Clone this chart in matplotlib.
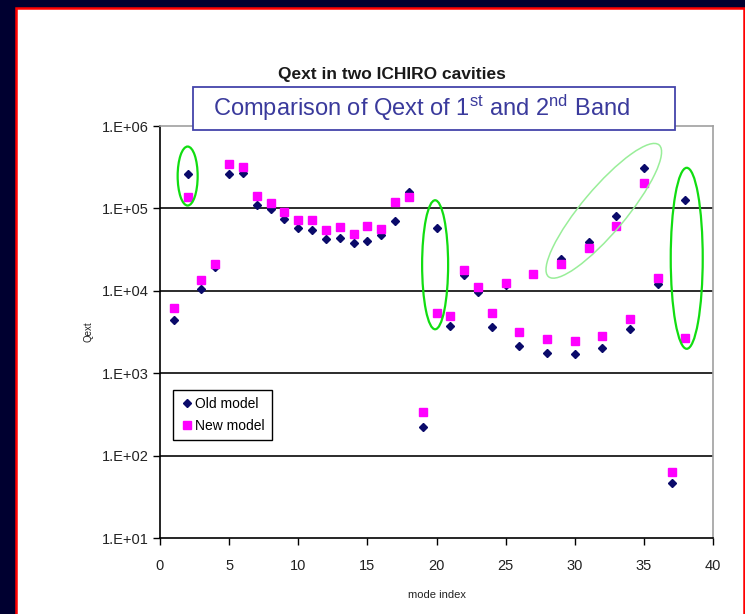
import numpy as np
import matplotlib
matplotlib.use("Agg")
import matplotlib.pyplot as plt
from matplotlib.patches import Ellipse, Rectangle
from matplotlib.transforms import IdentityTransform
from matplotlib.ticker import FixedLocator, FuncFormatter

plt.rcParams['font.family'] = ['Liberation Sans', 'DejaVu Sans']
plt.rcParams['mathtext.fontset'] = 'custom'
plt.rcParams['mathtext.rm'] = 'Liberation Sans'
plt.rcParams['mathtext.it'] = 'Liberation Sans:italic'
plt.rcParams['mathtext.bf'] = 'Liberation Sans:bold'

mode = list(range(1, 39))
old_model = [4425, 261000, 10500, 19600, 261000, 271000, 109000, 97500, 73700, 58300,
             54700, 42200, 43800, 38400, 40500, 47600, 71000, 160000, 224, 58300,
             3750, 15600, 9770, 3600, 11700, 2140, 16000, 1770, 24100, 1700,
             39400, 2040, 80900, 3470, 312000, 12100, 46, 126000]
new_model = [6240, 139000, 13500, 20900, 346000, 320000, 141000, 117000, 91000, 72300,
             72300, 54700, 60000, 48400, 61100, 56700, 121000, 139000, 335, 5430,
             4950, 17900, 11200, 5330, 12300, 3130, 16000, 2580, 21100, 2460,
             32800, 2830, 61100, 4510, 205000, 14200, 62.7, 2650]

# highlight ellipses: centre (mode, Qext), width/height in pixels, angle
highlights = [
    (2.0, 2.47e5, 20, 59, 0, '#11dd11', 1.6),
    (19.9, 2.07e4, 26, 129, 0, '#11dd11', 1.6),
    (38.1, 2.48e4, 32, 181, 0, '#11dd11', 1.6),
    (32.1, 9.35e4, 172, 44, 50, '#99ee99', 1.1),
]

W, H = 745, 614
fig = plt.figure(figsize=(W / 100, H / 100), dpi=100)
fig.patch.set_facecolor('#000030')

# white slide panel with red border
panel = Rectangle((15.5 / W, -0.05), (744 - 15.5) / W, (H - 8) / H + 0.05,
                  transform=fig.transFigure, facecolor='white',
                  edgecolor='#ff0000', linewidth=1.8, zorder=-5)
fig.patches.append(panel)

ax = fig.add_axes([160 / W, (H - 538) / H, (713 - 160) / W, (538 - 126) / H])
ax.set_zorder(1)
ax.set_yscale('log')
ax.set_xlim(0, 40)
ax.set_ylim(10, 1e6)

ax.plot(mode, old_model, 'D', color='#0a0a6a', markersize=4.2, label='Old model', zorder=3)
ax.plot(mode, new_model, 's', color='#ff00ff', markersize=5.8, label='New model', zorder=4)

for v in [1e2, 1e3, 1e4, 1e5]:
    ax.axhline(v, color='#1a1a1a', linewidth=1.3, zorder=1)

ax.yaxis.set_major_locator(FixedLocator([1e1, 1e2, 1e3, 1e4, 1e5, 1e6]))
ax.yaxis.set_minor_locator(FixedLocator([]))
ax.yaxis.set_major_formatter(FuncFormatter(lambda v, p: "1.E+%02d" % int(round(np.log10(v)))))
ax.set_xticks(range(0, 41, 5))

for s in ['top', 'right']:
    ax.spines[s].set_color('#a0a0a0')
    ax.spines[s].set_linewidth(1.2)
for s in ['left', 'bottom']:
    ax.spines[s].set_color('black')
    ax.spines[s].set_linewidth(1.2)

ax.tick_params(axis='both', direction='out', length=5, width=1, colors='black',
               labelcolor='#222222', labelsize=10.5)
ax.tick_params(axis='x', pad=10)
ax.tick_params(axis='y', pad=3)

ax.set_xlabel('mode index', fontsize=8, labelpad=12, color='#222222')
ax.set_ylabel('Qext', fontsize=7, labelpad=6, color='#222222')

leg = ax.legend(loc='lower left', bbox_to_anchor=(0.023, 0.238), borderaxespad=0,
                fancybox=False, framealpha=1, edgecolor='black', fontsize=10,
                handletextpad=0.1, handlelength=1.0, borderpad=0.5, labelspacing=0.6)
leg.get_frame().set_linewidth(1.0)
leg.set_zorder(5)

# title and highlighted headline box
fig.text(392 / W, (H - 75) / H, 'Qext in two ICHIRO cavities', ha='center', va='center',
         fontsize=12.5, fontweight='bold', color='#1a1a1a')
box = Rectangle((193 / W, (H - 130) / H), (675 - 193) / W, (130 - 87) / H,
                transform=fig.transFigure, facecolor='white', edgecolor='#4444aa',
                linewidth=1.3, zorder=10)
fig.patches.append(box)
fig.text(422 / W, (H - 108) / H, r'Comparison of Qext of 1$^{\mathrm{st}}$ and 2$^{\mathrm{nd}}$ Band',
         ha='center', va='center', fontsize=17, color='#3a3a9c', zorder=11)

fig.canvas.draw()
for xc, yc, w, h, ang, col, lw in highlights:
    cx, cy = ax.transData.transform((xc, yc))
    ax.add_patch(Ellipse((cx, cy), w, h, angle=ang, transform=IdentityTransform(),
                         fill=False, edgecolor=col, linewidth=lw, zorder=6, clip_on=False))

fig.savefig('out.png', dpi=100, facecolor=fig.get_facecolor())
